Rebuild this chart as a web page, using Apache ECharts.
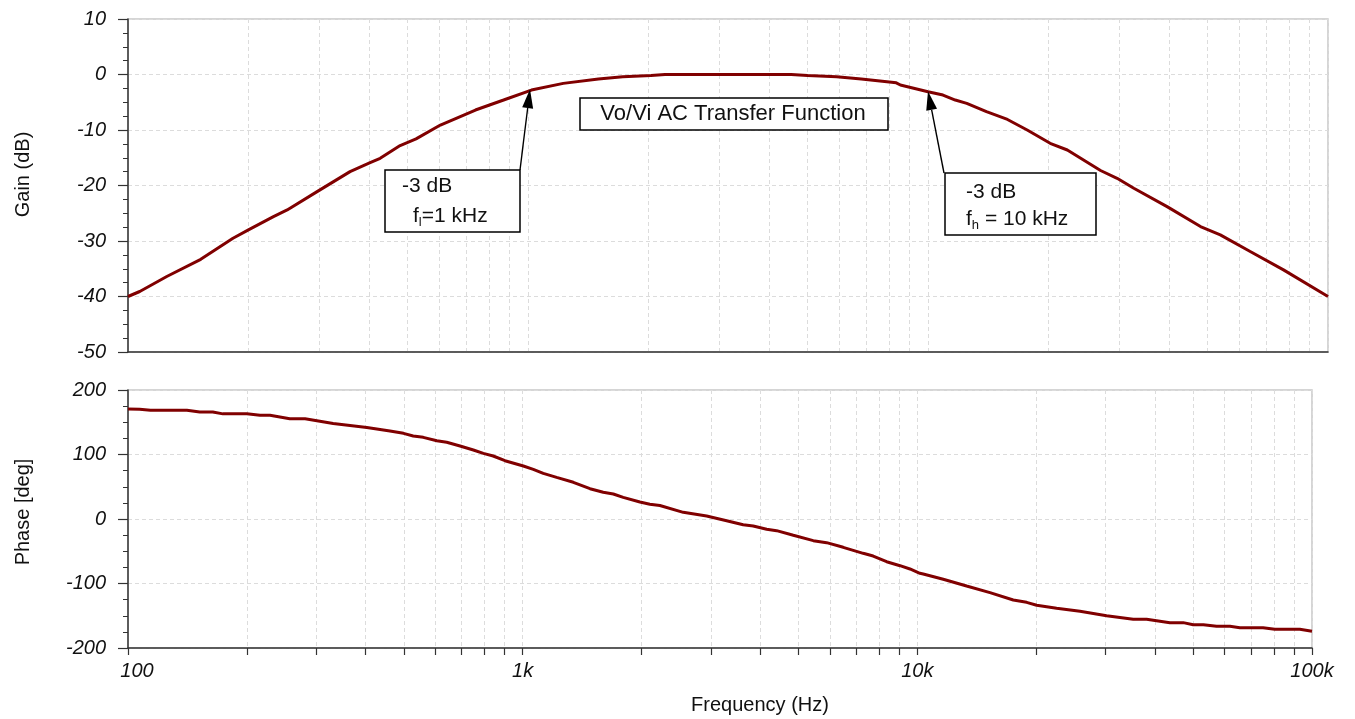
<!DOCTYPE html>
<html><head><meta charset="utf-8">
<script src="https://cdn.jsdelivr.net/npm/echarts@6/dist/echarts.min.js"></script>
<style>html,body{margin:0;padding:0;background:#fff}#c{width:1355px;height:719px}</style>
</head><body><div id="c"></div>
<script>
// ---- data ----
const gainFreq = [100,107,125,152,183,200,231,250,297,359,403,427,479,525,604,739,869,1020,1225,1500,1726,2030,2200,4550,5000,5910,6810,8330,8530,10000,10900,11700,12500,14000,15800,17700,20200,22300,27000,29700,32700,39600,48000,53800,63900,77400,100000];
const gainDb   = [-40,-39.1,-36.4,-33.3,-29.5,-28.0,-25.6,-24.4,-21.1,-17.5,-15.9,-15.1,-12.8,-11.6,-9.1,-6.4,-4.6,-2.8,-1.6,-0.8,-0.4,-0.2,0,0,-0.2,-0.4,-0.8,-1.5,-1.9,-3.1,-3.7,-4.6,-5.2,-6.7,-8.1,-10.0,-12.4,-13.6,-17.3,-18.7,-20.5,-23.8,-27.4,-28.9,-31.9,-35.2,-40];
const phaseFreq = [100,107,114,141,152,164,174,200,216,229,257,281,331,403,461,499,528,560,606,642,694,750,795,842,902,1004,1064,1128,1219,1344,1481,1600,1697,1798,1982,2100,2227,2552,2925,3287,3620,3839,4152,4400,4850,5450,5890,6490,7290,7730,8360,9040,9580,10150,10350,11630,13330,15280,17500,18920,20060,22540,25830,30170,35240,38100,43650,47180,50000,53060,57300,61940,65660,75160,80500,93140,100000];
const phaseDeg  = [170.5,170,168.5,168.5,166,166,163,163,160.7,160.7,155.5,155.5,148,142,136.4,132.8,128.7,126.6,121.4,118.9,113.2,107,101.8,97.7,90.4,82.2,77,70.8,64.6,56.9,47,41.4,38.8,33.6,26.4,23,21,10.3,4.7,-2.6,-8.8,-10.9,-16,-18.1,-25.3,-33.6,-36.7,-43.9,-53.2,-57.4,-66.2,-72.4,-77.5,-84.2,-85.3,-93.5,-103.9,-114.2,-125.6,-129.2,-133.8,-138.5,-143.1,-149.9,-155.5,-155.5,-160.7,-160.7,-163.9,-163.9,-166.4,-166.4,-168.5,-168.5,-171,-171,-174];
const xTickFreqs  = [100, 1000, 10000, 100000];
const xTickLabels = ['100', '1k', '10k', '100k'];
const xMinorMult  = [1,2,3,4,5,6,7,8,9];
const gainRange  = {min: -50, max: 10, step: 10};
const phaseRange = {min: -200, max: 200, step: 100};
const gainAxisName = 'Gain (dB)';
const phaseAxisName = 'Phase [deg]';
const freqAxisName = 'Frequency (Hz)';
const titleText = 'Vo/Vi AC Transfer Function';
const lowMarker  = {freq: 1000,  db: -3, lines: ['-3 dB', ['f', 'l', '=1 kHz']]};
const highMarker = {freq: 10000, db: -3, lines: ['-3 dB', ['f', 'h', ' = 10 kHz']]};

// ---- helpers ----
const L = Math.log10;
const gridTickPos = [];
for (let i = 0; i < xTickFreqs.length - 1; i++) {
  xMinorMult.forEach(m => gridTickPos.push(L(xTickFreqs[i] * m)));
}
gridTickPos.push(L(xTickFreqs[xTickFreqs.length - 1]));
const labelPos = xTickFreqs.map(L);
const labelMap = {};
labelPos.forEach((p, i) => labelMap[Math.round(p)] = xTickLabels[i]);
const firstLabelKey = Math.round(labelPos[0]);

const FONT = 'Liberation Sans, Arial, Helvetica, sans-serif';
const TXT = '#111';
const AXIS = '#333';
const GRIDC = '#dcdcdc';

function xAxisCfg(gi, showLabels) {
  return {
    type: 'value', gridIndex: gi, min: L(xTickFreqs[0]), max: L(xTickFreqs[xTickFreqs.length - 1]),
    axisLine: {show: true, onZero: false, lineStyle: {color: AXIS, width: 1.5}},
    axisTick: {show: showLabels, customValues: gridTickPos, length: 7, lineStyle: {color: AXIS, width: 1.2}},
    axisLabel: {show: showLabels, customValues: labelPos,
      formatter: v => {
        const k = Math.round(v);
        return k === firstLabelKey ? '{first|' + labelMap[k] + '}' : (labelMap[k] || '');
      },
      rich: {first: {padding: [0, 0, 0, 18], fontSize: 20, fontStyle: 'italic', fontFamily: FONT, color: TXT}},
      fontSize: 20, fontStyle: 'italic', fontFamily: FONT, color: TXT, margin: 13},
    splitLine: {show: true, lineStyle: {color: GRIDC, type: [4, 3], width: 1}},
    name: showLabels ? freqAxisName : '', nameLocation: 'middle', nameGap: 47,
    nameTextStyle: {fontSize: 20, fontFamily: FONT, color: TXT, padding: [0, 0, 0, 80]}
  };
}
function yAxisCfg(gi, r, name, shift) {
  return {
    type: 'value', gridIndex: gi, min: r.min, max: r.max, interval: r.step,
    axisLine: {show: true, onZero: false, lineStyle: {color: AXIS, width: 1.5}},
    axisTick: {show: true, length: 10, lineStyle: {color: AXIS, width: 1.2}},
    minorTick: {show: true, splitNumber: 4, length: 5, lineStyle: {color: AXIS, width: 1}},
    axisLabel: {fontSize: 20, fontStyle: 'italic', fontFamily: FONT, color: TXT, margin: 22},
    splitLine: {show: true, lineStyle: {color: GRIDC, type: [4, 3], width: 1}},
    name: name, nameLocation: 'middle', nameGap: 95,
    nameTextStyle: {fontSize: 20, fontFamily: FONT, color: TXT, padding: [0, 0, 0, shift]}
  };
}

const chart = echarts.init(document.getElementById('c'), null, {renderer: 'canvas'});
chart.setOption({
  animation: false,
  backgroundColor: '#fff',
  grid: [
    {left: 128, top: 19, width: 1200, height: 333, show: true, borderColor: '#c8c8c8', borderWidth: 1.5, containLabel: false},
    {left: 128, top: 390, width: 1184, height: 258, show: true, borderColor: '#c8c8c8', borderWidth: 1.5, containLabel: false}
  ],
  xAxis: [xAxisCfg(0, false), xAxisCfg(1, true)],
  yAxis: [yAxisCfg(0, gainRange, gainAxisName, 22), yAxisCfg(1, phaseRange, phaseAxisName, 14)],
  series: [
    {type: 'line', xAxisIndex: 0, yAxisIndex: 0, showSymbol: false, z: 5,
     lineStyle: {color: '#800000', width: 3}, data: gainFreq.map((f, i) => [L(f), gainDb[i]])},
    {type: 'line', xAxisIndex: 1, yAxisIndex: 1, showSymbol: false, z: 5,
     lineStyle: {color: '#800000', width: 3}, data: phaseFreq.map((f, i) => [L(f), phaseDeg[i]])}
  ]
});

// ---- annotations ----
function arrow(sx, sy, tip) {
  const tx = tip[0], ty = tip[1];
  const dx = tx - sx, dy = ty - sy, len = Math.hypot(dx, dy);
  const ux = dx / len, uy = dy / len, nx = -uy, ny = ux;
  const hl = 19, hw = 5.5;
  const bx = tx - ux * hl, by = ty - uy * hl;
  return [
    {type: 'line', z: 20, shape: {x1: sx, y1: sy, x2: bx, y2: by}, style: {stroke: '#000', lineWidth: 1.4}},
    {type: 'polygon', z: 20, shape: {points: [[tx, ty], [bx + nx * hw, by + ny * hw], [bx - nx * hw, by - ny * hw]]}, style: {fill: '#000'}}
  ];
}
const rich = {
  m: {fontSize: 21, fontFamily: FONT, fill: '#111', color: '#111', lineHeight: 26},
  s: {fontSize: 13, fontFamily: FONT, fill: '#111', color: '#111', lineHeight: 12, verticalAlign: 'bottom'}
};
function subText(parts) { return '{m|' + parts[0] + '}{s|' + parts[1] + '}{m|' + parts[2] + '}'; }
const tipL = chart.convertToPixel({xAxisIndex: 0, yAxisIndex: 0}, [L(lowMarker.freq), lowMarker.db]);
const tipH = chart.convertToPixel({xAxisIndex: 0, yAxisIndex: 0}, [L(highMarker.freq), highMarker.db]);
const boxStyle = {fill: '#fff', stroke: '#000', lineWidth: 1.5};
const plain = {fontSize: 21, fontFamily: FONT, fill: '#111', align: 'left', verticalAlign: 'middle'};
chart.setOption({
  graphic: [
    {type: 'rect', z: 15, shape: {x: 580, y: 98, width: 308, height: 32}, style: boxStyle},
    {type: 'text', z: 16, x: 733, y: 114, style: {text: titleText, fontSize: 22, fontFamily: FONT, fill: '#111', align: 'center', verticalAlign: 'middle'}},
    {type: 'rect', z: 15, shape: {x: 385, y: 170, width: 135, height: 62}, style: boxStyle},
    {type: 'text', z: 16, x: 402, y: 186, style: Object.assign({text: lowMarker.lines[0]}, plain)},
    {type: 'text', z: 16, x: 413, y: 216, style: {text: subText(lowMarker.lines[1]), rich: rich, align: 'left', verticalAlign: 'middle'}},
    {type: 'rect', z: 15, shape: {x: 945, y: 173, width: 151, height: 62}, style: boxStyle},
    {type: 'text', z: 16, x: 966, y: 192, style: Object.assign({text: highMarker.lines[0]}, plain)},
    {type: 'text', z: 16, x: 966, y: 219, style: {text: subText(highMarker.lines[1]), rich: rich, align: 'left', verticalAlign: 'middle'}}
  ].concat(arrow(520, 170, [tipL[0] + 2, tipL[1] - 2]), arrow(944, 173, tipH))
});
</script>
</body></html>
